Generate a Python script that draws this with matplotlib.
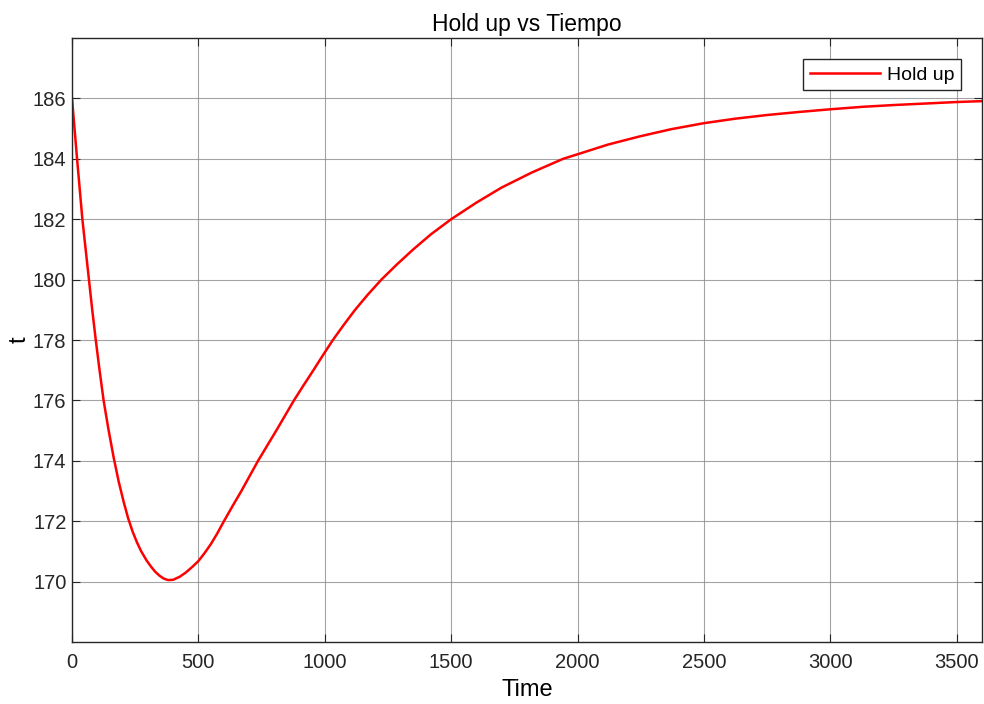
import matplotlib
matplotlib.use("Agg")
import matplotlib.pyplot as plt

# ── DATA ─────────────────────────────────────────────────────────────────────
time_s = [0, 10, 20, 30, 41, 54, 67, 80, 94, 109, 125, 144, 165, 185, 205,
          222, 240, 258, 274, 295, 314, 330, 347, 363, 380, 400, 426, 450,
          475, 500, 525, 550, 575, 601, 635, 670, 703, 736, 772, 808, 843,
          878, 916, 955, 993, 1032, 1075, 1120, 1170, 1224, 1285, 1350, 1420,
          1500, 1600, 1700, 1820, 1943, 2000, 2120, 2245, 2370, 2500, 2625,
          2750, 2875, 3000, 3125, 3250, 3375, 3500, 3600]
hold_up = [186.0, 185.0, 184.0, 183.05, 182.0, 181.0, 180.0, 179.0, 178.0,
           177.0, 176.0, 175.05, 174.1, 173.3, 172.62, 172.1, 171.65, 171.28,
           171.0, 170.7, 170.48, 170.32, 170.19, 170.1, 170.05, 170.06,
           170.16, 170.3, 170.48, 170.68, 170.95, 171.25, 171.6, 172.0, 172.5,
           173.0, 173.5, 174.0, 174.5, 175.0, 175.5, 176.0, 176.5, 177.0,
           177.5, 178.0, 178.5, 179.0, 179.5, 180.0, 180.5, 181.0, 181.5,
           182.0, 182.55, 183.05, 183.55, 184.0, 184.15, 184.47, 184.74,
           184.98, 185.18, 185.33, 185.45, 185.55, 185.64, 185.72, 185.78,
           185.83, 185.88, 185.91]

x_ticks = [0, 500, 1000, 1500, 2000, 2500, 3000, 3500]
y_ticks = [170, 172, 174, 176, 178, 180, 182, 184, 186]

plt.rcParams["font.family"] = ["Liberation Sans", "DejaVu Sans"]

# ── PLOT ─────────────────────────────────────────────────────────────────────
fig = plt.figure(figsize=(9.84, 7.04), dpi=100)
ax = fig.add_axes([72 / 984, 62 / 704, 910 / 984, 604 / 704])

ax.plot(time_s, hold_up, color="#ff0000", linewidth=1.8, label="Hold up")

ax.set_xlim(0, 3600)
ax.set_ylim(168, 188)
ax.set_xticks(x_ticks)
ax.set_yticks(y_ticks)

ax.grid(True, color="#8c8c8c", linewidth=0.8, alpha=0.8)
ax.set_axisbelow(True)
for side in ax.spines.values():
    side.set_color("#262626")
    side.set_linewidth(1.0)

ax.tick_params(direction="in", length=6, width=0.8, top=True, right=True,
               labelsize=14.5, colors="#262626")
ax.tick_params(axis="x", pad=8)
ax.tick_params(axis="y", pad=4)

ax.set_title("Hold up vs Tiempo", fontsize=16.5, pad=5)
ax.set_xlabel("Time", fontsize=17, labelpad=5)
ax.set_ylabel("t", fontsize=17)
ax.yaxis.set_label_coords(-0.046, 0.5)

ax.legend(loc="upper right", bbox_to_anchor=(0.977, 0.965), borderaxespad=0,
          fontsize=14, fancybox=False, edgecolor="#262626", framealpha=1,
          handlelength=3.6, handletextpad=0.35, borderpad=0.35)

plt.savefig("out.png", dpi=100)
